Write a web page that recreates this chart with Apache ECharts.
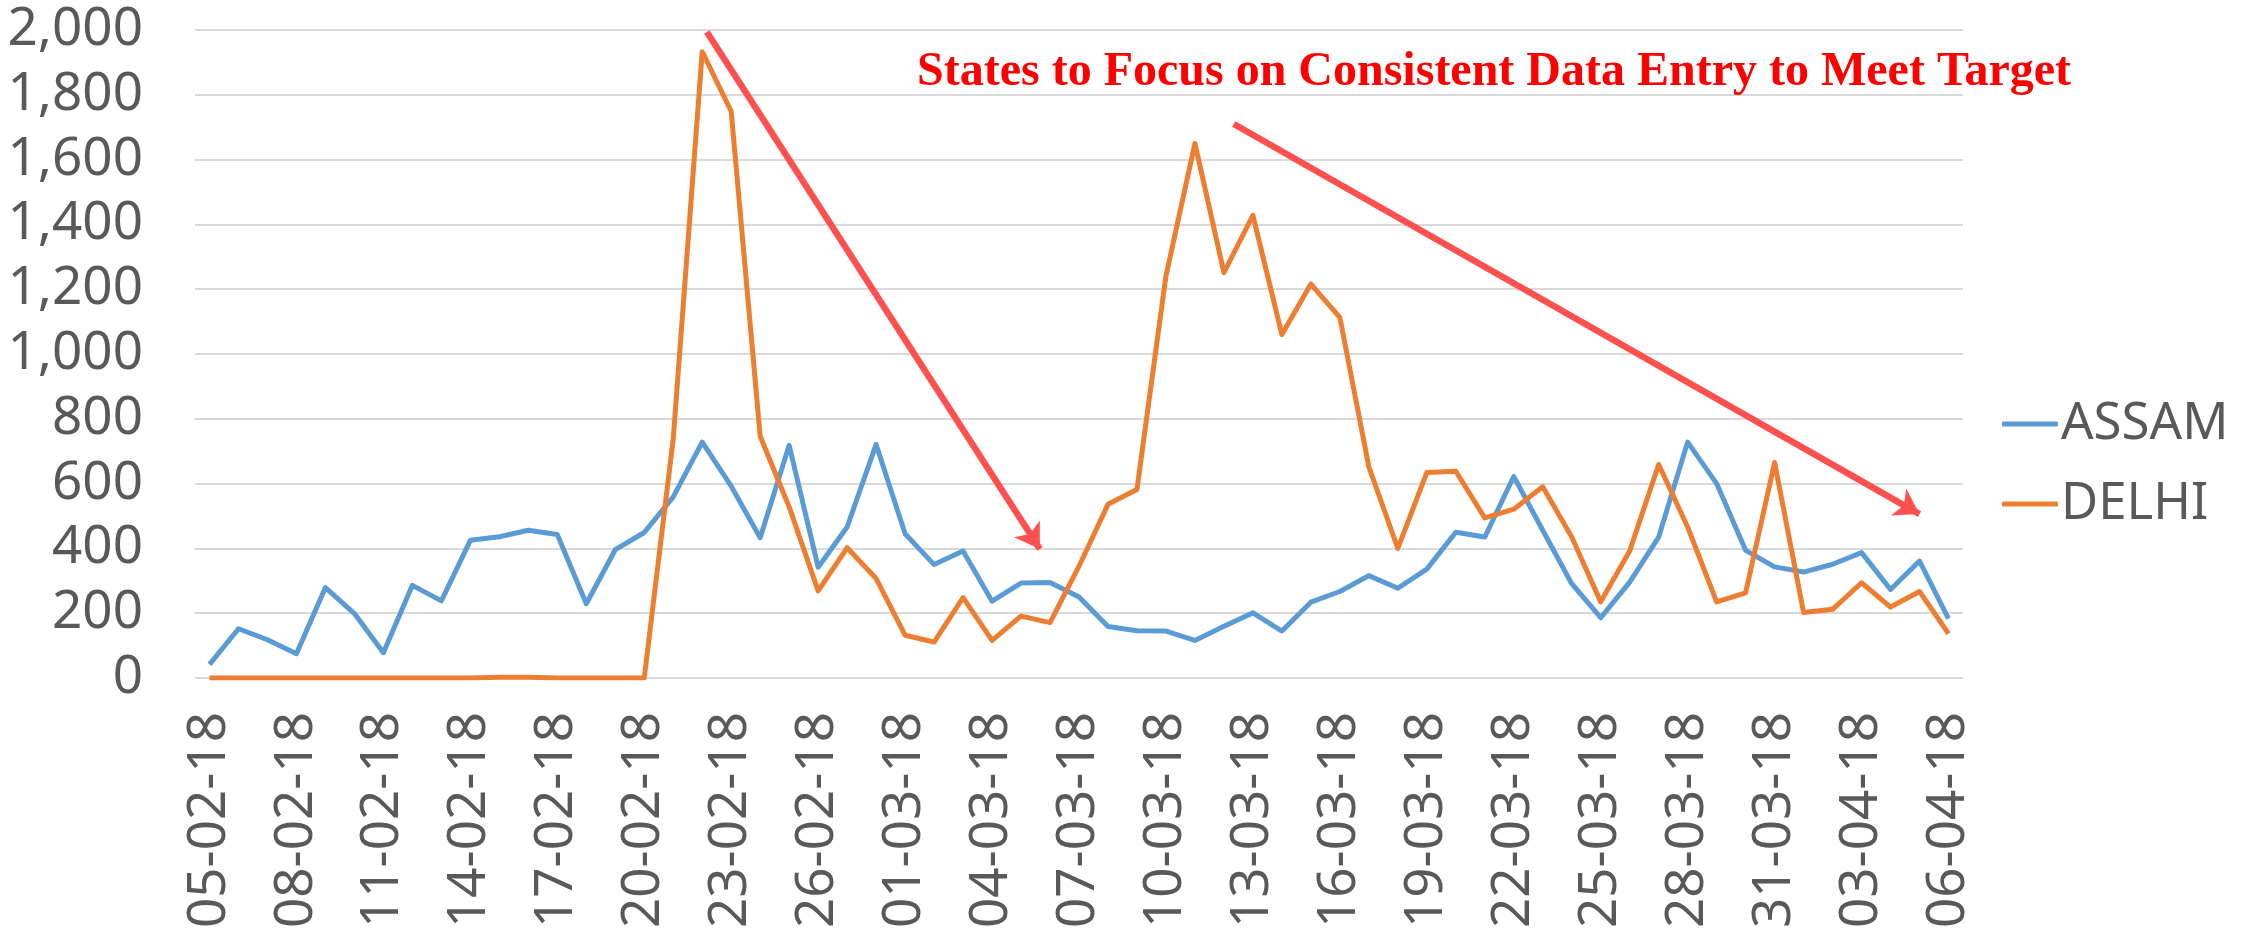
<!DOCTYPE html>
<html>
<head>
<meta charset="utf-8">
<title>ASSAM / DELHI</title>
<script src="https://cdn.jsdelivr.net/npm/echarts@6/dist/echarts.min.js"></script>
<style>
html, body { margin: 0; padding: 0; background: #fff; }
#line { width: 2255px; height: 929px; }
</style>
</head>
<body>
<div id="line"></div>
<script>
const dates = [
  '05-02-18', '06-02-18', '07-02-18', '08-02-18', '09-02-18', '10-02-18', '11-02-18', '12-02-18',
  '13-02-18', '14-02-18', '15-02-18', '16-02-18', '17-02-18', '18-02-18', '19-02-18', '20-02-18',
  '21-02-18', '22-02-18', '23-02-18', '24-02-18', '25-02-18', '26-02-18', '27-02-18', '28-02-18',
  '01-03-18', '02-03-18', '03-03-18', '04-03-18', '05-03-18', '06-03-18', '07-03-18', '08-03-18',
  '09-03-18', '10-03-18', '11-03-18', '12-03-18', '13-03-18', '14-03-18', '15-03-18', '16-03-18',
  '17-03-18', '18-03-18', '19-03-18', '20-03-18', '21-03-18', '22-03-18', '23-03-18', '24-03-18',
  '25-03-18', '26-03-18', '27-03-18', '28-03-18', '29-03-18', '30-03-18', '31-03-18', '01-04-18',
  '02-04-18', '03-04-18', '04-04-18', '05-04-18', '06-04-18'
];
const assam = [
  42, 152, 118, 75, 279, 199, 78, 286, 238, 425, 436, 456, 443, 229, 396, 449,
  559, 728, 592, 433, 718, 342, 466, 721, 445, 350, 392, 237, 293, 295, 250, 159,
  146, 145, 116, 160, 201, 145, 234, 267, 316, 277, 336, 450, 435, 622, 456, 291,
  186, 296, 435, 728, 600, 394, 343, 327, 351, 387, 273, 361, 183
];
const delhi = [
  0, 0, 0, 0, 0, 0, 0, 0, 0, 0, 2, 2, 0, 0, 0, 0,
  738, 1933, 1749, 746, 528, 269, 402, 307, 132, 111, 248, 116, 191, 171, 345, 536,
  582, 1241, 1650, 1251, 1428, 1060, 1216, 1113, 652, 400, 634, 638, 494, 521, 590, 435,
  235, 392, 659, 466, 235, 263, 665, 202, 212, 294, 219, 267, 137
];
const yTicks = [0, 200, 400, 600, 800, 1000, 1200, 1400, 1600, 1800, 2000];

const note = 'States to Focus on Consistent Data Entry to Meet Target';
// arrows: [category position, value]
const arrowFrom = [[17.16, 1994], [35.34, 1710]];
const arrowTo = [[28.65, 398], [59.0, 506]];

const labelFont = "'Noto Sans', sans-serif";

let chartDom = document.getElementById('line');
let myChart = echarts.init(chartDom);
let option;

option = {
  animation: false,
  title: {
    text: note,
    left: 917,
    top: 49,
    padding: 0,
    textStyle: {
      color: '#FF0000',
      fontFamily: "'Liberation Serif', 'Times New Roman', serif",
      fontWeight: 'bold',
      fontSize: 48
    }
  },
  legend: {
    data: ['ASSAM', 'DELHI'],
    orient: 'vertical',
    left: 2002,
    top: 396,
    padding: 0,
    icon: 'roundRect',
    itemWidth: 56,
    itemHeight: 5,
    itemGap: 24,
    textStyle: {
      color: '#595959',
      fontFamily: labelFont,
      fontSize: 51,
      lineHeight: 56,
      padding: [0, 0, 0, -2]
    }
  },
  grid: {
    left: 195,
    right: 292,
    top: 30,
    bottom: 251,
    containLabel: false,
    outerBoundsMode: 'none'
  },
  xAxis: [
    {
      type: 'category',
      data: dates,
      boundaryGap: true,
      axisLine: { show: false },
      axisTick: { show: false },
      axisLabel: {
        interval: 2,
        rotate: 90,
        margin: 34,
        color: '#595959',
        fontFamily: labelFont,
        fontSize: 53
      }
    },
    {
      // hidden axis so the arrows can sit between categories
      type: 'value',
      min: -0.5,
      max: dates.length - 0.5,
      show: false
    }
  ],
  yAxis: {
    type: 'value',
    min: yTicks[0],
    max: yTicks[yTicks.length - 1],
    interval: 200,
    axisLine: { show: false },
    axisTick: { show: false },
    axisLabel: {
      margin: 52,
      color: '#595959',
      fontFamily: labelFont,
      fontSize: 53,
      formatter: function (v) { return v.toLocaleString('en-US'); }
    },
    splitLine: { lineStyle: { color: '#D9D9D9', width: 2 } }
  },
  series: [
    {
      name: 'ASSAM',
      type: 'line',
      data: assam,
      symbol: 'none',
      color: '#5B9BD5',
      lineStyle: { width: 5, color: '#5B9BD5', join: 'round' }
    },
    {
      name: 'DELHI',
      type: 'line',
      data: delhi,
      symbol: 'none',
      color: '#ED7D31',
      lineStyle: { width: 5, color: '#ED7D31', join: 'round' }
    },
    {
      name: 'arrows',
      type: 'line',
      xAxisIndex: 1,
      data: [],
      markLine: {
        silent: true,
        symbol: ['none', 'arrow'],
        symbolSize: [23, 24],
        label: { show: false },
        lineStyle: { color: '#FF5050', width: 6.5, type: 'solid' },
        data: arrowFrom.map(function (p, i) {
          return [{ coord: p }, { coord: arrowTo[i] }];
        })
      }
    }
  ]
};

option && myChart.setOption(option);
</script>
</body>
</html>
